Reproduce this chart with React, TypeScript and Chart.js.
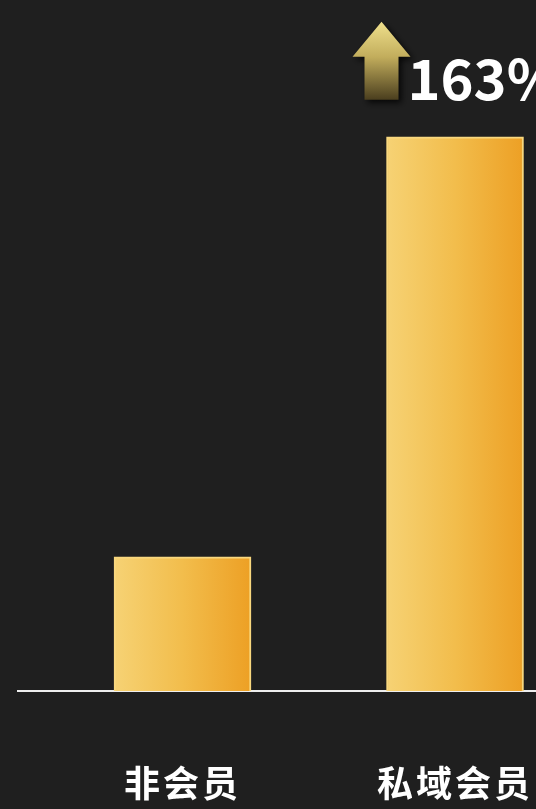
import React, { useEffect, useRef } from "react";
import { Chart, registerables } from "chart.js";

Chart.register(...registerables);

const categories = ["非会员", "私域会员"];
const categoryPositions = [1, 2];
const values = [100, 413];
const growthLabel = "163%";

export default function App() {
  const ref = useRef<HTMLCanvasElement | null>(null);

  useEffect(() => {
    document.body.style.margin = "0";
    document.body.style.background = "#1f1f1f";
    const canvas = ref.current;
    if (!canvas) return;

    const bgPlugin = {
      id: "bg",
      beforeDraw(chart: any) {
        const { ctx, width, height } = chart;
        ctx.save();
        ctx.fillStyle = "#1f1f1f";
        ctx.fillRect(0, 0, width, height);
        ctx.restore();
        (ctx as any).letterSpacing = "3px";
      },
      beforeDatasetsDraw(chart: any) {
        (chart.ctx as any).letterSpacing = "0px";
      },
    };

    const arrowPlugin = {
      id: "arrow",
      afterDraw(chart: any) {
        const meta = chart.getDatasetMeta(0);
        const bar = meta.data[1];
        if (!bar) return;
        const ctx = chart.ctx;
        const left = bar.x - bar.width / 2;
        const top = bar.y;
        const cx = left - 5;
        const tipY = top - 115;
        const headY = top - 80;
        const bottomY = top - 37;
        ctx.save();
        (ctx as any).letterSpacing = "0px";
        const g = ctx.createLinearGradient(0, tipY, 0, bottomY);
        g.addColorStop(0, "#efe08c");
        g.addColorStop(0.45, "#c2ad5c");
        g.addColorStop(1, "#4a3e1e");
        ctx.shadowColor = "rgba(0,0,0,0.8)";
        ctx.shadowBlur = 6;
        ctx.shadowOffsetX = 3;
        ctx.shadowOffsetY = 3;
        ctx.fillStyle = g;
        ctx.beginPath();
        ctx.moveTo(cx, tipY);
        ctx.lineTo(cx + 29, headY);
        ctx.lineTo(cx + 17, headY);
        ctx.lineTo(cx + 17, bottomY);
        ctx.lineTo(cx - 17, bottomY);
        ctx.lineTo(cx - 17, headY);
        ctx.lineTo(cx - 29, headY);
        ctx.closePath();
        ctx.fill();
        ctx.shadowColor = "transparent";
        ctx.fillStyle = "#ffffff";
        ctx.font = "bold 56px 'Noto Sans CJK SC', 'Noto Sans', sans-serif";
        ctx.textBaseline = "alphabetic";
        ctx.textAlign = "left";
        ctx.fillText(growthLabel, left + 21, bottomY);
        ctx.restore();
      },
    };

    const barFill = (c: any) => {
      const chart = c.chart;
      const xs = chart.scales && chart.scales.x;
      if (!xs || !c.raw) return "#f0b63c";
      const cx = xs.getPixelForValue(c.raw.x);
      if (!Number.isFinite(cx)) return "#f0b63c";
      const g = chart.ctx.createLinearGradient(cx - 68, 0, cx + 68, 0);
      g.addColorStop(0, "#f6d274");
      g.addColorStop(0.5, "#f2bd4c");
      g.addColorStop(1, "#eda025");
      return g;
    };

    const chart = new Chart(canvas, {
      type: "bar",
      data: {
        datasets: [
          {
            data: categoryPositions.map((x, i) => ({ x, y: values[i] })),
            backgroundColor: barFill,
            borderColor: "#f8d77e",
            borderWidth: 2,
            barThickness: 137,
          },
        ],
      },
      options: {
        responsive: false,
        animation: false,
        layout: { padding: { left: 18, right: 0, top: 0, bottom: 0 } },
        plugins: { legend: { display: false }, tooltip: { enabled: false } },
        scales: {
          x: {
            type: "linear",
            offset: false,
            min: 0.3963,
            max: 2.2972,
            grid: { display: false, drawTicks: false },
            border: { display: true, color: "#eeeeee", width: 2 },
            afterBuildTicks: (scale: any) => {
              scale.ticks = categoryPositions.map((v) => ({ value: v }));
            },
            afterFit: (scale: any) => {
              scale.height = 118;
            },
            ticks: {
              autoSkip: false,
              maxRotation: 0,
              padding: 0,
              color: "#ffffff",
              font: { size: 36, weight: "bold", lineHeight: "184px", family: "'Noto Sans CJK SC', sans-serif" },
              callback: (v: any) => categories[categoryPositions.indexOf(Number(v))] ?? "",
            },
          },
          y: { display: false, min: 0, max: 515 },
        },
      },
      plugins: [bgPlugin, arrowPlugin],
    } as any);
    chart.update();

    return () => chart.destroy();
  }, []);

  return (
    <div style={{ position: "absolute", left: 0, top: 0, width: 536, height: 809, background: "#1f1f1f" }}>
      <canvas ref={ref} width={536} height={809} style={{ display: "block", width: 536, height: 809 }} />
    </div>
  );
}
